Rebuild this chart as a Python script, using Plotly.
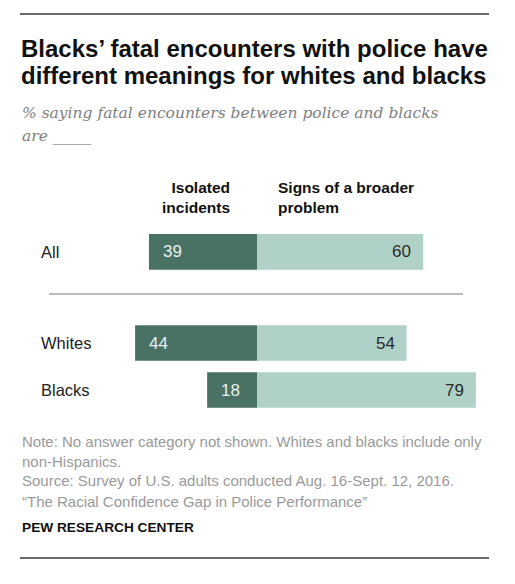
import plotly.graph_objects as go

W, H = 515, 584
OFF = 8  # page body margin in the browser

categories = ["All", "Whites", "Blacks"]
row_pos = [2.94, 1.0, 0.0]
isolated = [39, 44, 18]
broader = [60, 54, 79]

series_names = ["Isolated<br>incidents", "Signs of a broader<br>problem"]
title_lines = ["Blacks\u2019 fatal encounters with police have",
               "different meanings for whites and blacks"]
subtitle_lines = ["% saying fatal encounters between police and blacks",
                  "are _____"]
note_lines = ["Note: No answer category not shown. Whites and blacks include only",
              "non-Hispanics.",
              "Source: Survey of U.S. adults conducted Aug. 16-Sept. 12, 2016.",
              "\u201cThe Racial Confidence Gap in Police Performance\u201d"]
credit = "PEW RESEARCH CENTER"

DARK = "#4a7264"
LIGHT = "#afd1c7"
FONT = "Liberation Sans"

FW, FH = W - 2 * OFF, H - 2 * OFF


def px(x):
    return (x - OFF) / FW


def py(y):
    return 1 - (y - OFF) / FH


fig = go.Figure()
fig.add_trace(go.Bar(
    y=row_pos, x=isolated, base=[-v for v in isolated], orientation="h",
    marker=dict(color=DARK, line=dict(width=0)), width=0.76,
    name="Isolated incidents", hoverinfo="skip"))
fig.add_trace(go.Bar(
    y=row_pos, x=broader, base=[0] * len(broader), orientation="h",
    marker=dict(color=LIGHT, line=dict(width=0)), width=0.76,
    name="Signs of a broader problem", hoverinfo="skip"))

ann = []
# value labels
for yp, v in zip(row_pos, isolated):
    ann.append(dict(x=-v, y=yp, xref="x", yref="y", text=str(v), showarrow=False,
                    xanchor="left", xshift=12, font=dict(family=FONT, size=17, color="#e8efec")))
for yp, v in zip(row_pos, broader):
    ann.append(dict(x=v, y=yp, xref="x", yref="y", text=str(v), showarrow=False,
                    xanchor="right", xshift=-10, font=dict(family=FONT, size=17, color="#2b2b2b")))
# row labels
for yp, c in zip(row_pos, categories):
    ann.append(dict(x=px(39), y=yp, xref="paper", yref="y", text=c, showarrow=False,
                    xanchor="left", font=dict(family=FONT, size=16.5, color="#222")))
# column headers
ann.append(dict(x=px(232), y=py(197), xref="paper", yref="paper", text=series_names[0],
                showarrow=False, xanchor="right", align="right", yanchor="middle",
                font=dict(family=FONT, size=15.5, color="#111", weight="bold")))
ann.append(dict(x=px(276), y=py(197), xref="paper", yref="paper", text=series_names[1],
                showarrow=False, xanchor="left", align="left", yanchor="middle",
                font=dict(family=FONT, size=15.5, color="#111", weight="bold")))
# title
for i, t in enumerate(title_lines):
    ann.append(dict(x=px(19), y=py(48 + 27 * i), xref="paper", yref="paper", text="<b>" + t + "</b>",
                    showarrow=False, xanchor="left", yanchor="middle",
                    font=dict(family=FONT, size=24, color="#111")))
for i, t in enumerate(subtitle_lines):
    ann.append(dict(x=px(20), y=py(113 + 23 * i), xref="paper", yref="paper", text="<i>" + t + "</i>",
                    showarrow=False, xanchor="left", yanchor="middle",
                    font=dict(family="DejaVu Serif", size=15.5, color="#808080")))
for i, t in enumerate(note_lines):
    ann.append(dict(x=px(20), y=py(441 + 20 * i), xref="paper", yref="paper", text=t,
                    showarrow=False, xanchor="left", yanchor="middle",
                    font=dict(family=FONT, size=15, color="#9a9a9a")))
ann.append(dict(x=px(20), y=py(527), xref="paper", yref="paper", text="<b>" + credit + "</b>",
                showarrow=False, xanchor="left", yanchor="middle",
                font=dict(family=FONT, size=13.7, color="#111")))

shapes = [
    dict(type="line", xref="paper", yref="paper", x0=px(20), x1=px(489), y0=py(14), y1=py(14),
         line=dict(color="#3a3a3a", width=1.5)),
    dict(type="line", xref="paper", yref="paper", x0=px(20), x1=px(489), y0=py(558), y1=py(558),
         line=dict(color="#3a3a3a", width=1.5)),
    dict(type="line", xref="paper", yref="paper", x0=px(49), x1=px(463), y0=py(294), y1=py(294),
         line=dict(color="#bdbdbd", width=2)),
]

zero_px, unit = 257, 2.77
xr = [-60, 85]
fig.update_layout(
    width=FW, height=FH, margin=dict(l=0, r=0, t=0, b=0),
    paper_bgcolor="white", plot_bgcolor="white", showlegend=False,
    barmode="overlay",
    xaxis=dict(range=xr, domain=[px(zero_px + xr[0] * unit), px(zero_px + xr[1] * unit)],
               visible=False, fixedrange=True),
    yaxis=dict(range=[-0.5, 3.5], domain=[py(390 + 0.5 * 47), py(390 - 3.5 * 47)],
               visible=False, fixedrange=True),
    annotations=ann, shapes=shapes,
)
fig.write_html("out.html", config={"displayModeBar": False})
